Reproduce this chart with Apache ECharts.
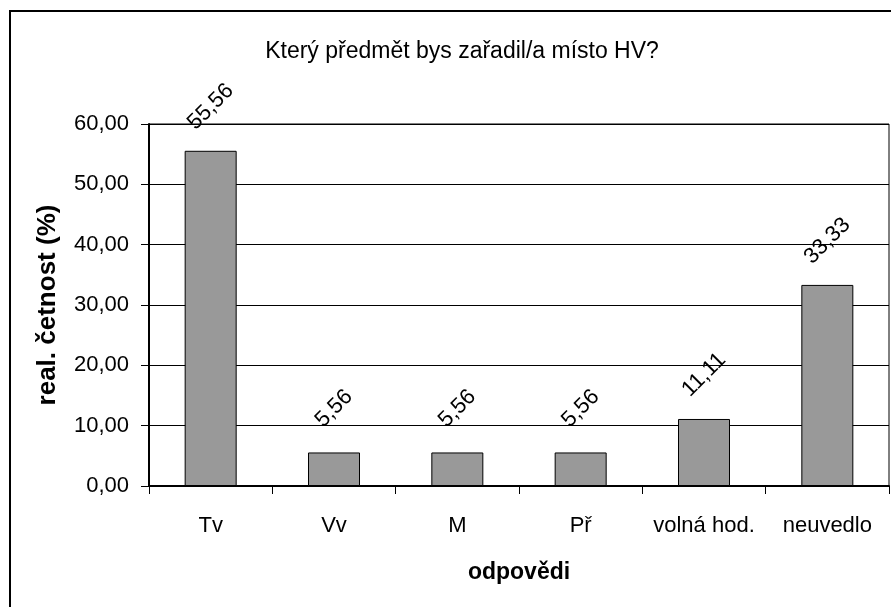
<!DOCTYPE html>
<html>
<head>
<meta charset="utf-8">
<script src="https://cdn.jsdelivr.net/npm/echarts@6/dist/echarts.min.js"></script>
<style>
html,body{margin:0;padding:0;background:#fff;}
#chart{width:891px;height:607px;}
</style>
</head>
<body>
<div id="chart"></div>
<script>
// odpovědi a relativní četnosti
var categories = ['Tv', 'Vv', 'M', 'Př', 'volná hod.', 'neuvedlo'];
var values = [55.56, 5.56, 5.56, 5.56, 11.11, 33.33];
var yTicks = [0, 10, 20, 30, 40, 50, 60];

var font = '"Liberation Sans", Arial, sans-serif';
function fmt(v) {
    return Number(v).toFixed(2).replace('.', ',');
}

var chart = echarts.init(document.getElementById('chart'));
chart.setOption({
    animation: false,
    backgroundColor: '#fff',
    textStyle: {fontFamily: font, color: '#000'},
    graphic: [{
        type: 'rect',
        shape: {x: 10, y: 11, width: 900, height: 620},
        style: {fill: 'none', stroke: '#000', lineWidth: 2}
    }],
    title: {
        text: 'Který předmět bys zařadil/a místo HV?',
        left: 457,
        textAlign: 'center',
        top: 35,
        textStyle: {fontFamily: font, fontSize: 23, fontWeight: 'normal', color: '#000'}
    },
    grid: {
        left: 149, right: 2, top: 124, bottom: 121,
        show: true, borderColor: '#000', borderWidth: 1
    },
    xAxis: {
        type: 'category',
        data: categories,
        name: 'odpovědi',
        nameLocation: 'middle',
        nameGap: 75,
        nameTextStyle: {fontFamily: font, fontSize: 23, fontWeight: 'bold', color: '#000'},
        axisLine: {lineStyle: {color: '#000', width: 2}},
        axisTick: {show: true, length: 8, lineStyle: {color: '#000', width: 1}, alignWithLabel: false},
        axisLabel: {fontFamily: font, fontSize: 22, color: '#000', margin: 29, interval: 0}
    },
    yAxis: {
        type: 'value',
        min: yTicks[0],
        max: yTicks[yTicks.length - 1],
        interval: 10,
        name: 'real. četnost (%)',
        nameLocation: 'middle',
        nameRotate: 90,
        nameGap: 88,
        nameTextStyle: {fontFamily: font, fontSize: 26, fontWeight: 'bold', color: '#000'},
        axisLine: {show: true, lineStyle: {color: '#000', width: 2}},
        axisTick: {show: true, length: 8, lineStyle: {color: '#000', width: 1}},
        axisLabel: {fontFamily: font, fontSize: 22, color: '#000', margin: 20, formatter: fmt},
        splitLine: {show: true, lineStyle: {color: '#000', width: 1}}
    },
    series: [{
        type: 'bar',
        data: values,
        barWidth: 52,
        itemStyle: {color: '#999999', borderColor: '#000', borderWidth: 1},
        label: {
            show: true,
            position: 'top',
            distance: 44,
            rotate: 45,
            align: 'center',
            verticalAlign: 'middle',
            fontFamily: font,
            fontSize: 22,
            color: '#000',
            formatter: function (p) { return fmt(p.value); }
        }
    }]
});
</script>
</body>
</html>
